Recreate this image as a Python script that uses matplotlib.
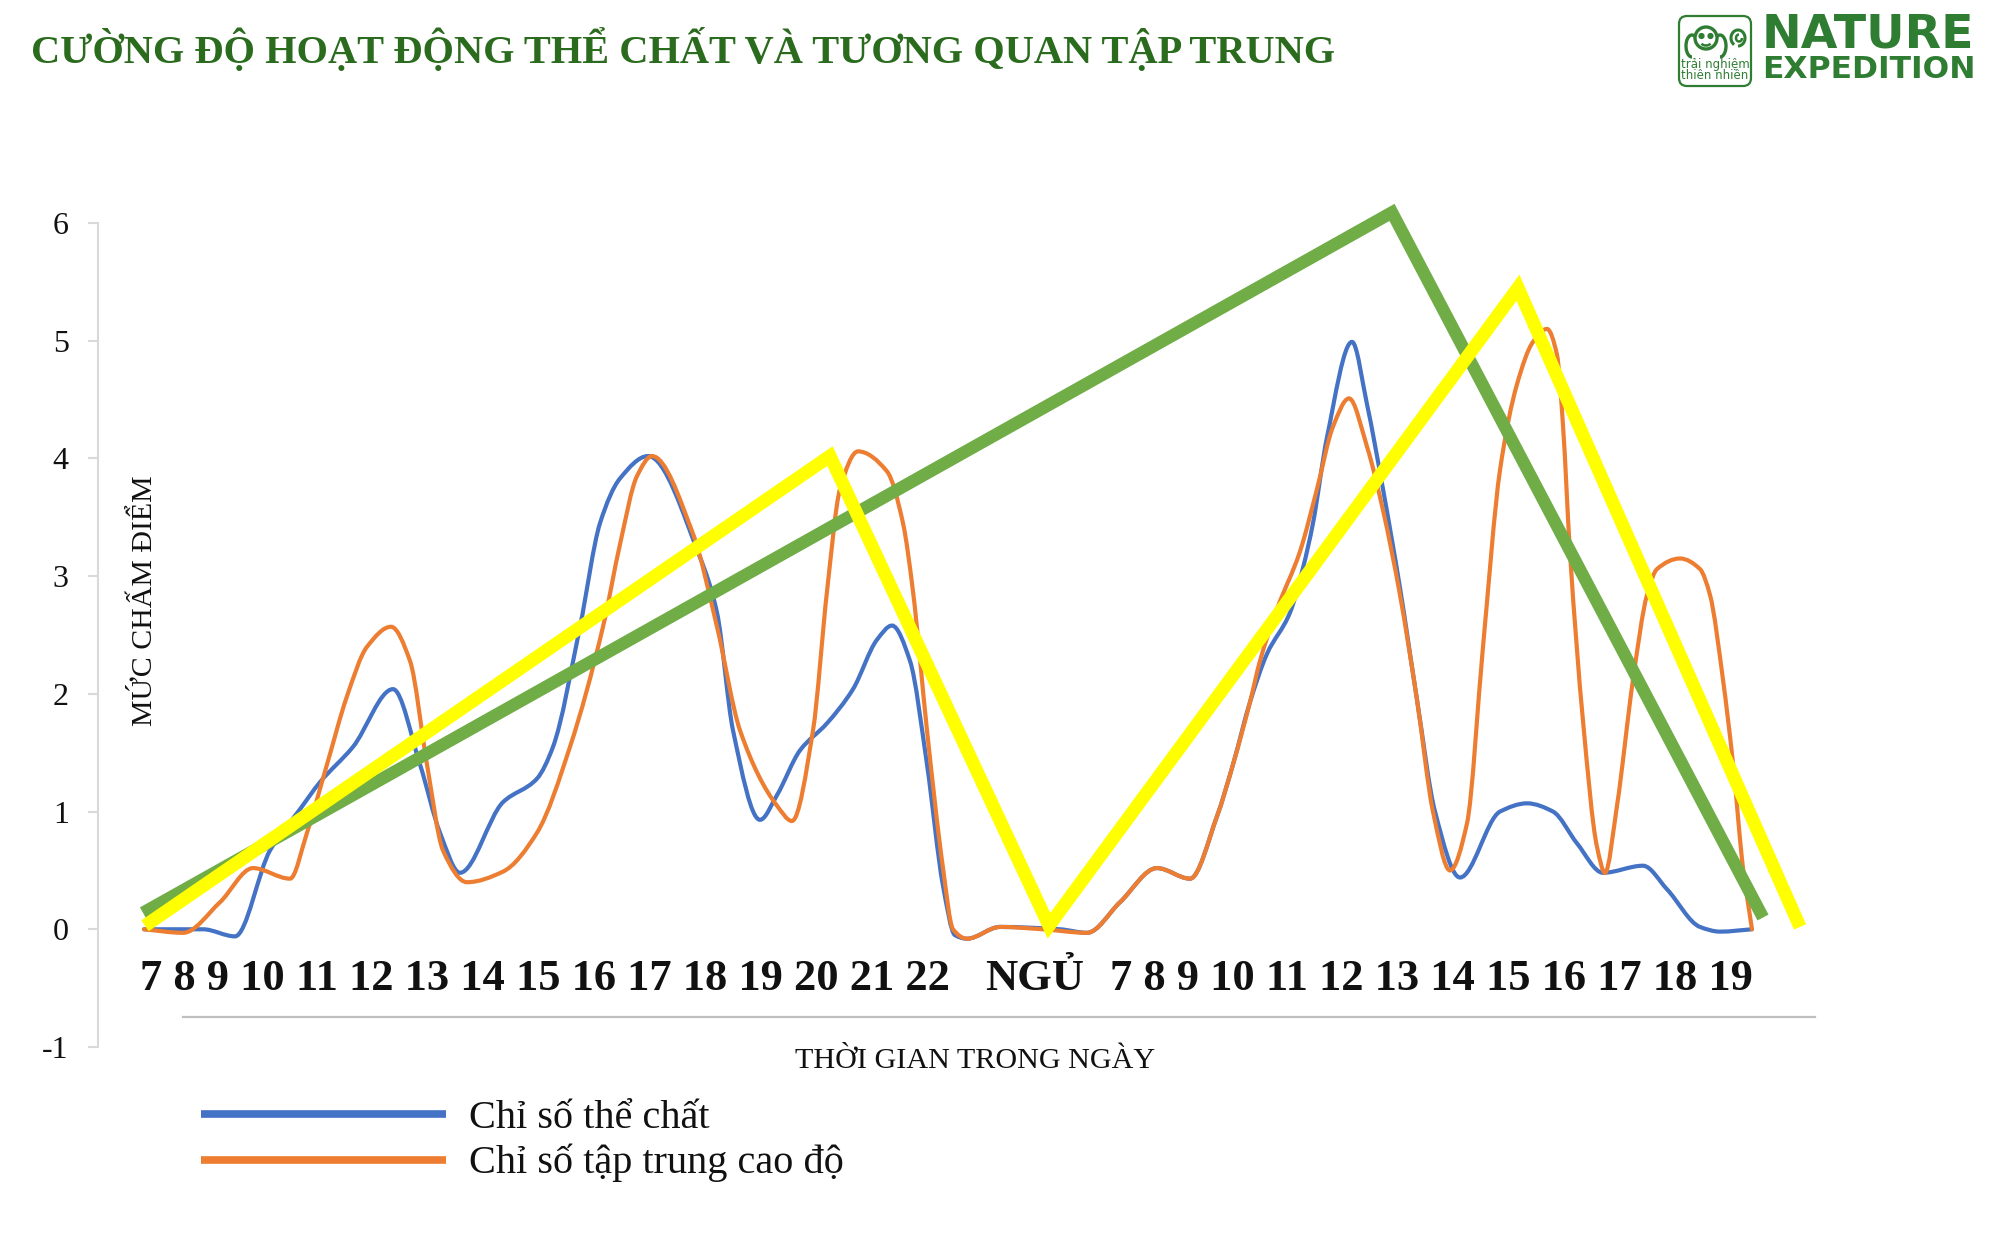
import numpy as np
import matplotlib
matplotlib.use("Agg")
import matplotlib.pyplot as plt
from matplotlib.path import Path
from matplotlib.patches import PathPatch, FancyBboxPatch, Circle, Ellipse, Arc
from matplotlib.lines import Line2D

# position along the two-day timeline and score
blue_t = [0.0, 3.1, 5.9, 9.1, 12.6, 15.6, 17.6, 20.9, 24.9, 27.6, 29.6, 31.6,
          35.9, 39.3, 40.9, 43.6, 45.6, 47.6, 50.4, 55.6, 57.3, 58.9, 61.6,
          63.3, 65.6, 68.3, 70.9, 73.3, 74.8, 76.6, 78.3, 79.9, 81.1, 82.3,
          85.6, 91.6, 94.3, 97.6, 101.3, 104.6, 107.3, 108.9, 110.6, 112.3,
          114.6, 115.9, 116.9, 118.3, 120.8, 122.3, 123.9, 125.6, 127.3,
          129.1, 131.6, 135.6, 138.3, 140.9, 143.3, 145.9, 149.9, 152.3,
          155.6, 157.6, 160.8]
blue_v = [0, 0, 0, -0.06, 0.67, 1.02, 1.25, 1.55, 2.04, 1.40, 0.82, 0.48,
          1.08, 1.28, 1.55, 2.57, 3.45, 3.83, 4.02, 3.16, 2.69, 1.69, 0.93,
          1.14, 1.52, 1.75, 2.04, 2.46, 2.58, 2.28, 1.40, 0.37, -0.05, -0.08,
          0.02, 0, -0.03, 0.23, 0.52, 0.43, 0.96, 1.40, 1.93, 2.34,
          2.69, 3.07, 3.45, 4.18, 4.99, 4.46, 3.74, 2.90, 1.95,
          1.00, 0.44, 1.00, 1.07, 1.00, 0.73, 0.48, 0.54, 0.34,
          0.02, -0.02, 0]

orange_t = [0.0, 3.9, 7.6, 10.9, 14.6, 16.3, 18.3, 20.3, 22.3, 24.7, 26.6,
            28.3, 29.9, 32.3, 35.9, 39.3, 42.6, 45.9, 47.6, 49.3, 50.8, 54.9,
            57.3, 59.6, 63.3, 64.8, 66.9, 68.3, 69.6, 71.4, 74.3, 75.9, 76.9,
            78.3, 79.9, 80.9, 82.3, 85.6, 89.9, 94.3, 97.6, 101.3, 104.6,
            107.3, 108.9, 110.6, 111.6, 113.3, 115.6, 117.3, 118.9, 120.5,
            122.3, 123.9, 125.6, 127.3, 128.9, 130.6, 132.3, 133.9, 135.6,
            137.3, 138.9, 140.3, 141.3, 141.9, 142.6, 143.9, 145.3, 146.1,
            147.3, 148.9, 150.3, 151.3, 153.6, 155.6, 156.6, 157.9, 158.9,
            159.9, 160.8]
orange_v = [0, -0.03, 0.23, 0.52, 0.43, 0.82, 1.40, 1.98, 2.40, 2.57, 2.28,
            1.40, 0.67, 0.40, 0.49, 0.82, 1.55, 2.57, 3.27, 3.85, 4.02, 3.36,
            2.57, 1.69, 1.05, 0.92, 1.69, 2.87, 3.74, 4.06, 3.89, 3.45, 2.87,
            1.69, 0.52, 0.0, -0.08, 0.02, 0, -0.03, 0.23, 0.52, 0.43,
            0.96, 1.40, 1.93, 2.28, 2.72, 3.21, 3.74, 4.27, 4.51,
            4.10, 3.56, 2.84, 1.95, 1.00, 0.50, 0.90, 2.40, 3.90,
            4.63, 4.99, 5.10, 4.88, 4.28, 3.20, 1.77, 0.70, 0.48,
            1.05, 2.12, 2.84, 3.06, 3.15, 3.06, 2.84, 2.12, 1.41,
            0.52, 0]

green_t = [-0.1, 124.8, 161.9]
green_v = [0.14, 6.09, 0.10]
yellow_t = [0.1, 68.6, 90.5, 137.4, 165.6]
yellow_v = [0.03, 4.02, 0.03, 5.45, 0.02]

day1_hours = list(range(7, 23))
sleep_label = "NGỦ"
day2_hours = list(range(7, 20))
y_ticks = list(range(-1, 7))

title = "CƯỜNG ĐỘ HOẠT ĐỘNG THỂ CHẤT VÀ TƯƠNG QUAN TẬP TRUNG"
x_title = "THỜI GIAN TRONG NGÀY"
y_title = "MỨC CHẤM ĐIỂM"
legend_labels = ["Chỉ số thể chất", "Chỉ số tập trung cao độ"]

BLUE = "#4472C4"
ORANGE = "#ED7D31"
GREEN = "#70AD47"
YELLOW = "#FFFF00"
DARK_GREEN = "#2a6b1e"
LOGO_GREEN = "#2e7d32"
SERIF = ["Liberation Serif", "DejaVu Serif"]
SANS = ["DejaVu Sans"]

W, H = 2000, 1250


def smooth_path(t, v):
    # monotone cubic (pchip) through the points, as bezier segments
    x = np.asarray(t, float)
    y = np.asarray(v, float)
    h = np.diff(x)
    d = np.diff(y) / h
    m = np.zeros_like(y)
    m[0], m[-1] = d[0], d[-1]
    for k in range(1, len(x) - 1):
        if d[k - 1] * d[k] > 0:
            w1 = 2 * h[k] + h[k - 1]
            w2 = h[k] + 2 * h[k - 1]
            m[k] = (w1 + w2) / (w1 / d[k - 1] + w2 / d[k])
    verts = [(x[0], y[0])]
    codes = [Path.MOVETO]
    for k in range(len(x) - 1):
        verts += [(x[k] + h[k] / 3, y[k] + m[k] * h[k] / 3),
                  (x[k + 1] - h[k] / 3, y[k + 1] - m[k + 1] * h[k] / 3),
                  (x[k + 1], y[k + 1])]
        codes += [Path.CURVE4] * 3
    return Path(verts, codes)


fig = plt.figure(figsize=(20, 12.5), dpi=100)
fig.patch.set_facecolor("white")


def fit(txt, target, vertical=False):
    fig.canvas.draw()
    bb = txt.get_window_extent(fig.canvas.get_renderer())
    size = bb.height if vertical else bb.width
    txt.set_fontsize(txt.get_fontsize() * target / size)
    return txt.get_fontsize()


ax = fig.add_axes([98 / W, 1 - 1047 / H, (1830 - 98) / W, (1047 - 223) / H])
ax.set_xlim(-4.6, 168.6)
ax.set_ylim(-1, 6)

ax.add_patch(PathPatch(smooth_path(blue_t, blue_v), fill=False, edgecolor=BLUE,
                       lw=3.0, zorder=2, capstyle="round"))
ax.add_patch(PathPatch(smooth_path(orange_t, orange_v), fill=False, edgecolor=ORANGE,
                       lw=3.0, zorder=3, capstyle="round"))
ax.plot(green_t, green_v, color=GREEN, lw=9, zorder=4,
        solid_joinstyle="miter", solid_capstyle="butt", clip_on=False)
ax.plot(yellow_t, yellow_v, color=YELLOW, lw=9.5, zorder=5,
        solid_joinstyle="miter", solid_capstyle="butt", clip_on=False)

ax.set_xticks([])
ax.set_yticks(y_ticks)
ax.set_yticklabels([str(v) for v in y_ticks])
ax.tick_params(axis="y", direction="out", length=7, width=1.5, color="#d9d9d9",
               pad=14, labelsize=23, labelcolor="#111111")
for lbl in ax.get_yticklabels():
    lbl.set_fontfamily(SERIF)
for side in ["top", "right", "bottom"]:
    ax.spines[side].set_visible(False)
ax.spines["left"].set_color("#d9d9d9")
ax.spines["left"].set_linewidth(1.5)

# title
t_title = fig.text(31 / W, 1 - 63 / H, title, fontsize=28, fontweight="bold",
                   color=DARK_GREEN, family=SERIF, ha="left", va="baseline")
fit(t_title, 1304)

# hour labels row
row_y = 1 - 990 / H
t_day1 = fig.text(139.5 / W, row_y, " ".join(str(h) for h in day1_hours),
                  fontsize=30, fontweight="bold", family=SERIF, ha="left",
                  va="baseline", color="#111111")
fs = fit(t_day1, 808)
fig.text(1034.5 / W, row_y, sleep_label, fontsize=fs, fontweight="bold",
         family=SERIF, ha="center", va="baseline", color="#111111")
fig.text(1753 / W, row_y, " ".join(str(h) for h in day2_hours), fontsize=fs,
         fontweight="bold", family=SERIF, ha="right", va="baseline", color="#111111")

fig.add_artist(Line2D([183 / W, 1815 / W], [1 - 1017 / H] * 2,
                      transform=fig.transFigure, color="#bfbfbf", lw=1.6))

t_x = fig.text(975 / W, 1 - 1068 / H, x_title, fontsize=20, family=SERIF,
               ha="center", va="baseline", color="#111111")
fit(t_x, 360)
t_y = fig.text(145 / W, 1 - 601 / H, y_title, fontsize=20, family=SERIF,
               rotation=90, ha="center", va="center", color="#111111")
fit(t_y, 251, vertical=True)

# legend
leg_line_y = [1114, 1159.5]
leg_text_y = [1128, 1173]
leg_colors = [BLUE, ORANGE]
leg_fs = None
for lab, col, ly, ty in zip(legend_labels, leg_colors, leg_line_y, leg_text_y):
    fig.add_artist(Line2D([201 / W, 446 / W], [1 - ly / H] * 2,
                          transform=fig.transFigure, color=col, lw=5.5,
                          solid_capstyle="butt"))
    tt = fig.text(469 / W, 1 - ty / H, lab, fontsize=leg_fs or 22, family=SERIF,
                  ha="left", va="baseline", color="#111111")
    if leg_fs is None:
        leg_fs = fit(tt, 240)

# logo (pixel coordinates, y down)
lax = fig.add_axes([1670 / W, 1 - 92 / H, 320 / W, 82 / H])
lax.set_xlim(1670, 1990)
lax.set_ylim(92, 10)
lax.axis("off")
lax.add_patch(FancyBboxPatch((1679, 16), 72, 70,
                             boxstyle="round,pad=0,rounding_size=8",
                             fill=False, edgecolor=LOGO_GREEN, lw=1.6))
# monkey head with big ears and a curled tail
lax.add_patch(Ellipse((1706, 38), 22, 22, fill=False, edgecolor=LOGO_GREEN, lw=2.4))
lax.add_patch(Arc((1692, 46), 12, 22, theta1=90, theta2=290, edgecolor=LOGO_GREEN, lw=2.4))
lax.add_patch(Arc((1720, 46), 12, 22, theta1=-110, theta2=90, edgecolor=LOGO_GREEN, lw=2.4))
lax.add_patch(Circle((1701.5, 36), 2.4, color=LOGO_GREEN))
lax.add_patch(Circle((1710.5, 36), 2.4, color=LOGO_GREEN))
lax.add_patch(Arc((1706, 42), 10, 7, theta1=20, theta2=160, edgecolor=LOGO_GREEN, lw=1.8))
lax.add_patch(Arc((1738, 38), 14, 16, theta1=120, theta2=450, edgecolor=LOGO_GREEN, lw=2.2))
lax.add_patch(Arc((1739, 38), 6, 7, theta1=0, theta2=270, edgecolor=LOGO_GREEN, lw=1.8))
lax.text(1715, 68, "trải nghiệm", fontsize=8.5, family=SANS, color=LOGO_GREEN,
         ha="center", va="baseline")
lax.text(1715, 79, "thiên nhiên", fontsize=8.5, family=SANS, color=LOGO_GREEN,
         ha="center", va="baseline")
t_nat = lax.text(1762, 47, "NATURE", fontsize=28, fontweight="bold", family=SANS,
                 color=LOGO_GREEN, ha="left", va="baseline")
fit(t_nat, 213)
t_exp = lax.text(1762, 78, "EXPEDITION", fontsize=20, fontweight="bold", family=SANS,
                 color=LOGO_GREEN, ha="left", va="baseline")
fit(t_exp, 213)

fig.savefig("out.png", dpi=100)
plt.close(fig)
